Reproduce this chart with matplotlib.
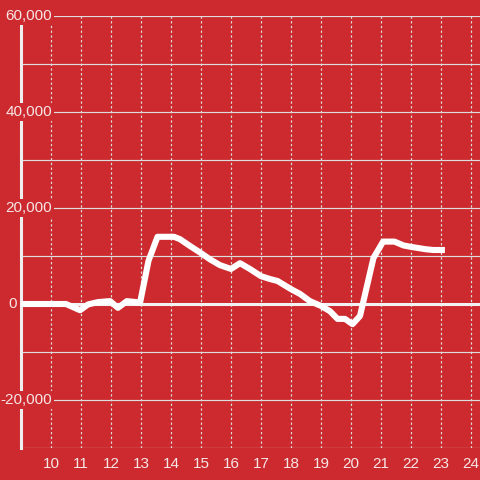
import matplotlib
matplotlib.use("Agg")
import matplotlib.pyplot as plt
from matplotlib.transforms import blended_transform_factory

plt.rcParams['font.family'] = ['Liberation Sans', 'DejaVu Sans']

# datos
hours = [9.0, 10.5, 10.97, 11.23, 11.57, 11.97, 12.23, 12.53, 12.97, 13.25,
         13.55, 14.1, 14.3, 14.63, 15.0, 15.3, 15.63, 16.0, 16.3, 16.63,
         17.0, 17.3, 17.55, 18.0, 18.3, 18.63, 19.0, 19.3, 19.55, 19.8,
         20.05, 20.3, 20.75, 21.07, 21.45, 21.75, 22.0, 22.5, 22.75, 23.13]
values = [0, 0, -1300, -100, 400, 600, -800, 600, 300, 9000,
          14000, 14000, 13500, 12100, 10600, 9300, 8100, 7300, 8500, 7300,
          5800, 5200, 4800, 3100, 2100, 600, -400, -1500, -3100, -3100,
          -4200, -2500, 9600, 13000, 13000, 12200, 11900, 11400, 11250, 11250]

x_ticks = list(range(10, 25))
y_grid = list(range(-30000, 60001, 10000))
y_labels = [60000, 40000, 20000, 0, -20000]

bg = '#cc2a2f'
grid_col = '#dcdcdc'
text_col = '#f6e6e6'

fig = plt.figure(figsize=(4.8, 4.8), dpi=100, facecolor=bg)
ax = fig.add_axes([21/480, 32/480, 1 - 21/480, 432/480])
ax.set_facecolor(bg)

ax.set_xlim(9, 24.3)
ax.set_ylim(-30000, 60000)

# rejilla
ax.set_yticks(y_grid)
ax.set_yticklabels([])
ax.set_xticks(x_ticks)
ax.set_xticklabels([str(t) for t in x_ticks], color=text_col, fontsize=11)
ax.tick_params(axis='both', length=0)
ax.tick_params(axis='x', pad=6.5)
ax.grid(axis='y', color=grid_col, linewidth=0.85, linestyle='-')
ax.grid(axis='x', color=grid_col, linewidth=0.85, linestyle=(0, (2, 2)))
ax.set_axisbelow(True)

for s in ['top', 'right', 'bottom']:
    ax.spines[s].set_visible(False)
ax.spines['left'].set_color('#eeeeee')
ax.spines['left'].set_linewidth(2.2)

ax.axhline(0, color='#f2f2f2', linewidth=2.2, zorder=2)

ax.plot(hours, values, color='white', linewidth=4.4,
        solid_joinstyle='round', solid_capstyle='butt', zorder=3)

# etiquetas eje y
tr = blended_transform_factory(fig.transFigure, ax.transData)
for v in y_labels:
    if v == 0:
        fig.text(8/480, v, "0", transform=tr, ha='left', va='center',
                 color=text_col, fontsize=11, zorder=5)
    else:
        fig.text(52/480, v, f"{v:,}", transform=tr, ha='right', va='center',
                 color=text_col, fontsize=11, zorder=5,
                 bbox=dict(facecolor=bg, edgecolor='none', pad=1.5))

fig.savefig("out.png", dpi=100, facecolor=bg)
